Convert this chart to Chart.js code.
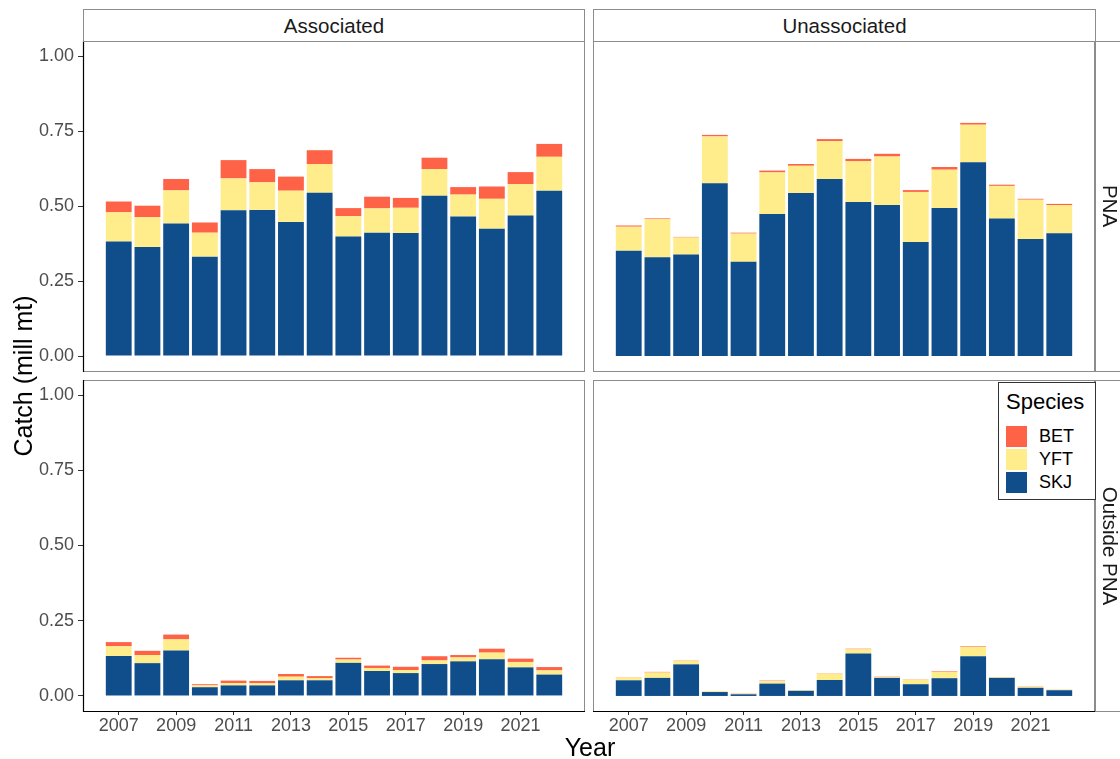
<!DOCTYPE html>
<html>
<head>
<meta charset="utf-8">
<script src="https://cdn.jsdelivr.net/npm/chart.js@4.4.1/dist/chart.umd.min.js"></script>
<style>
html,body{margin:0;padding:0;background:#fff;}
body{width:1120px;height:759px;position:relative;overflow:hidden;font-family:"Liberation Sans",Arial,Helvetica,sans-serif;}
canvas{position:absolute;}
.strip{position:absolute;box-sizing:border-box;border:1px solid #8c8c8c;background:#fff;color:#1a1a1a;font-size:20.5px;text-align:center;}
.rot{position:absolute;text-align:center;white-space:nowrap;}
#legend{position:absolute;left:998px;top:382px;width:98px;height:118px;box-sizing:border-box;border:1px solid #333;background:#fff;}
#legend .title{position:absolute;left:7px;top:4px;font-size:22px;color:#000;line-height:30px;}
#legend .key{position:absolute;left:7px;width:21px;height:21px;}
#legend .lab{position:absolute;left:40px;font-size:18px;line-height:21px;color:#000;}
</style>
</head>
<body>
<canvas id="c1" width="590" height="340" style="left:0px;top:36px"></canvas>
<canvas id="c2" width="512" height="340" style="left:588px;top:36px"></canvas>
<canvas id="c3" width="590" height="366" style="left:0px;top:375px"></canvas>
<canvas id="c4" width="512" height="366" style="left:588px;top:375px"></canvas>

<div class="strip" style="left:83px;top:9px;width:502px;height:33px;line-height:31px;">Associated</div>
<div class="strip" style="left:593px;top:9px;width:503px;height:33px;line-height:31px;">Unassociated</div>
<div class="strip" style="left:1095px;top:41px;width:40px;height:331px;"></div>
<div class="strip" style="left:1095px;top:380px;width:40px;height:332px;"></div>
<div class="rot" style="left:1010px;top:191px;width:200px;height:30px;line-height:30px;font-size:20.5px;color:#1a1a1a;transform:rotate(90deg);">PNA</div>
<div class="rot" style="left:1010px;top:531px;width:200px;height:30px;line-height:30px;font-size:20.5px;color:#1a1a1a;transform:rotate(90deg);">Outside PNA</div>

<div class="rot" style="left:-127px;top:361px;width:300px;height:30px;line-height:30px;font-size:25px;color:#000;transform:rotate(-90deg);">Catch (mill mt)</div>
<div class="rot" style="left:490px;top:732px;width:200px;height:30px;line-height:30px;font-size:25px;color:#000;">Year</div>

<div id="legend">
  <div class="title">Species</div>
  <div class="key" style="top:43px;background:#FF6347"></div><div class="lab" style="top:43px">BET</div>
  <div class="key" style="top:66px;background:#FFEC8B"></div><div class="lab" style="top:66px">YFT</div>
  <div class="key" style="top:89px;background:#104E8B"></div><div class="lab" style="top:89px">SKJ</div>
</div>

<script>
// ---- data (million mt) ----
const years = [2007,2008,2009,2010,2011,2012,2013,2014,2015,2016,2017,2018,2019,2020,2021,2022];
const xTickYears = [2007,2009,2011,2013,2015,2017,2019,2021];
const yTickValues = [0,0.25,0.5,0.75,1.0];
const species = ['SKJ','YFT','BET'];

// Associated, PNA
const assocPnaSKJ = [0.382,0.363,0.442,0.331,0.486,0.487,0.447,0.544,0.398,0.411,0.410,0.534,0.465,0.424,0.468,0.551];
const assocPnaYFT = [0.097,0.100,0.110,0.080,0.106,0.092,0.104,0.096,0.068,0.081,0.084,0.089,0.073,0.100,0.105,0.113];
const assocPnaBET = [0.036,0.038,0.038,0.034,0.061,0.044,0.047,0.046,0.027,0.039,0.033,0.038,0.025,0.041,0.040,0.043];

// Unassociated, PNA
const unassocPnaSKJ = [0.351,0.329,0.338,0.576,0.314,0.473,0.543,0.590,0.513,0.503,0.380,0.493,0.646,0.458,0.390,0.409];
const unassocPnaYFT = [0.080,0.128,0.057,0.156,0.094,0.139,0.091,0.126,0.136,0.162,0.167,0.128,0.125,0.109,0.131,0.094];
const unassocPnaBET = [0.004,0.002,0.002,0.005,0.003,0.006,0.006,0.007,0.008,0.009,0.006,0.009,0.006,0.004,0.003,0.004];

// Associated, Outside PNA
const assocOutSKJ = [0.133,0.109,0.151,0.029,0.035,0.035,0.052,0.052,0.110,0.083,0.076,0.106,0.115,0.122,0.095,0.071];
const assocOutYFT = [0.032,0.027,0.037,0.006,0.008,0.007,0.012,0.007,0.011,0.010,0.010,0.012,0.013,0.022,0.018,0.014];
const assocOutBET = [0.014,0.014,0.016,0.004,0.008,0.008,0.009,0.007,0.006,0.008,0.011,0.014,0.008,0.013,0.011,0.011];

// Unassociated, Outside PNA
const unassocOutSKJ = [0.052,0.060,0.105,0.013,0.0055,0.041,0.017,0.053,0.141,0.060,0.039,0.059,0.132,0.060,0.027,0.019];
const unassocOutYFT = [0.009,0.018,0.012,0.0025,0.0023,0.008,0.002,0.021,0.014,0.003,0.015,0.021,0.031,0.002,0.004,0.002];
const unassocOutBET = [0.001,0.002,0.001,0.0005,0.001,0.002,0.0005,0.001,0.002,0.001,0.001,0.002,0.002,0.001,0.001,0.0005];

// ---- styling ----
const speciesColors = {SKJ:'#104E8B', YFT:'#FFEC8B', BET:'#FF6347'};
const FONT = '"Liberation Sans", Arial, Helvetica, sans-serif';

const panelFrame = {
  id:'panelFrame',
  beforeDraw(chart){
    const {ctx, chartArea:a} = chart;
    ctx.save();
    ctx.strokeStyle = '#8c8c8c';
    ctx.lineWidth = 1;
    ctx.strokeRect(Math.round(a.left)+0.5, Math.round(a.top)+0.5, Math.round(a.right-a.left)-1, Math.round(a.bottom-a.top));
    ctx.restore();
  },
  afterDraw(chart, args, opts){
    const {ctx, chartArea:a} = chart;
    const l = Math.round(a.left)+0.5, r = Math.round(a.right), t = Math.round(a.top), b = Math.round(a.bottom)+0.5;
    ctx.save();
    ctx.strokeStyle = '#000';
    ctx.lineWidth = 1.2;
    ctx.beginPath();
    if (opts.left){ ctx.moveTo(l, t); ctx.lineTo(l, b+0.5); }
    if (opts.bottom){ ctx.moveTo(l-0.5, b); ctx.lineTo(r, b); }
    ctx.stroke();
    ctx.restore();
  }
};

function dataset(name, vals){
  return {
    label: name,
    data: years.map((yr,i)=>({x:yr, y:vals[i]})),
    backgroundColor: speciesColors[name],
    borderWidth: 0,
    barPercentage: 0.9,
    categoryPercentage: 1.0
  };
}

function makePanel(id, skj, yft, bet, showX, showY, padding){
  return new Chart(document.getElementById(id), {
    type:'bar',
    data:{ datasets:[dataset('SKJ',skj), dataset('YFT',yft), dataset('BET',bet)] },
    options:{
      responsive:false, animation:false, devicePixelRatio:1,
      layout:{padding:padding},
      plugins:{legend:{display:false}, tooltip:{enabled:false}, panelFrame:{left:showY, bottom:showX}},
      scales:{
        x:{
          type:'linear', stacked:true, offset:false,
          min:2005.755, max:2023.245,
          display:showX,
          afterBuildTicks:(s)=>{ s.ticks = xTickYears.map(v=>({value:v})); },
          afterFit:(s)=>{ if (showX) s.height = 30; s.paddingLeft = 0; s.paddingRight = 0; },
          grid:{display:true, offset:false, drawOnChartArea:false, drawTicks:true, tickLength:4, tickColor:'#333', tickWidth:1},
          border:{display:false},
          ticks:{font:{family:FONT, size:18}, color:'#4d4d4d', padding:0, maxRotation:0, autoSkip:false, callback:(v)=>String(v)}
        },
        y:{
          type:'linear', stacked:true,
          min:-0.05, max:1.05,
          display:showY,
          afterBuildTicks:(s)=>{ s.ticks = yTickValues.map(v=>({value:v})); },
          afterFit:(s)=>{ if (showY) s.width = 83; s.paddingTop = 0; s.paddingBottom = 0; },
          grid:{display:true, drawOnChartArea:false, drawTicks:true, tickLength:5, tickColor:'#333', tickWidth:1},
          border:{display:false},
          ticks:{font:{family:FONT, size:18}, color:'#4d4d4d', padding:4, callback:(v)=>Number(v).toFixed(2)}
        }
      }
    },
    plugins:[panelFrame]
  });
}

makePanel('c1', assocPnaSKJ, assocPnaYFT, assocPnaBET, false, true, {top:5, right:5, bottom:5, left:0});
makePanel('c2', unassocPnaSKJ, unassocPnaYFT, unassocPnaBET, false, false, {top:5, right:5, bottom:5, left:5});
makePanel('c3', assocOutSKJ, assocOutYFT, assocOutBET, true, true, {top:5, right:5, bottom:0, left:0});
makePanel('c4', unassocOutSKJ, unassocOutYFT, unassocOutBET, true, false, {top:5, right:5, bottom:0, left:5});
</script>
</body>
</html>
